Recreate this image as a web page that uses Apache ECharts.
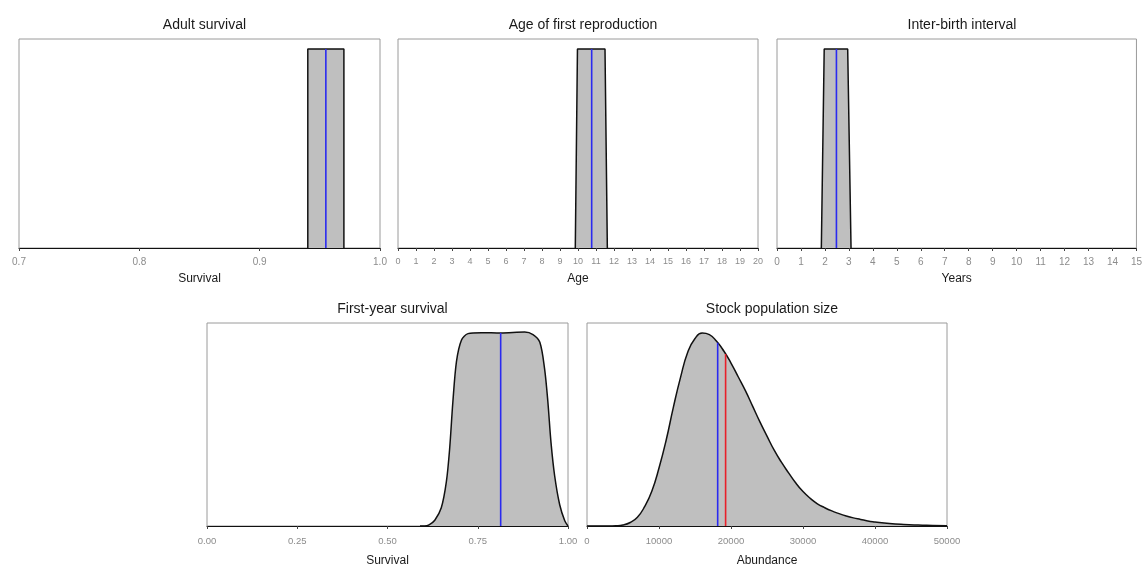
<!DOCTYPE html>
<html>
<head>
<meta charset="utf-8">
<script src="https://cdn.jsdelivr.net/npm/echarts@6/dist/echarts.min.js"></script>
<style>
html,body{margin:0;padding:0;background:#fff;}
#c{width:1145px;height:568px;}
</style>
</head>
<body>
<div id="c"></div>
<script>
// ---- Data ----
var titles = ["Adult survival", "Age of first reproduction", "Inter-birth interval", "First-year survival", "Stock population size"];
var axisNames = ["Survival", "Age", "Years", "Survival", "Abundance"];

// x ranges / tick steps
var xMins = [0.7, 0, 0, 0, 0];
var xMaxs = [1.0, 20, 15, 1, 50000];
var xSteps = [0.1, 1, 1, 0.25, 10000];
var labelDecimals = [1, 0, 0, 2, 0];

// Panel 1: adult survival (uniform)
var adultX = [0.94, 0.94, 0.97, 0.97];
var adultY = [0, 1, 1, 0];
var adultMean = 0.955;

// Panel 2: age of first reproduction
var ageX = [9.85, 9.97, 11.5, 11.63];
var ageY = [0, 1, 1, 0];
var ageMean = 10.76;

// Panel 3: inter-birth interval
var ibiX = [1.85, 1.97, 2.95, 3.09];
var ibiY = [0, 1, 1, 0];
var ibiMean = 2.48;

// Panel 4: first-year survival density (relative)
var fysX = [0.590, 0.603, 0.615, 0.631, 0.649, 0.663, 0.672, 0.681, 0.691, 0.705, 0.723, 0.760, 0.814, 0.880, 0.903, 0.922, 0.935, 0.944, 0.953, 0.963, 0.977, 0.991, 1.000];
var fysY = [0, 0, 0.006, 0.030, 0.094, 0.228, 0.396, 0.640, 0.850, 0.962, 0.995, 1.0, 0.998, 1.003, 0.990, 0.950, 0.815, 0.648, 0.430, 0.260, 0.110, 0.027, 0];
var fysMean = 0.8135;

// Panel 5: stock population size density (relative)
var popX = [0, 3000, 4000, 5000, 6000, 7000, 8000, 9000, 10000, 11000, 12000, 13000, 14000, 15000, 16000, 17000, 18000, 19000, 20000, 21000, 22000, 23000, 24000, 25000, 26000, 27000, 28000, 29000, 30000, 31000, 32000, 33000, 34000, 35000, 36000, 37000, 38000, 39000, 40000, 42000, 44000, 46000, 48000, 50000];
var popY = [0, 0, 0.001, 0.005, 0.018, 0.045, 0.100, 0.180, 0.300, 0.445, 0.615, 0.770, 0.900, 0.970, 0.998, 0.990, 0.955, 0.905, 0.843, 0.772, 0.700, 0.620, 0.540, 0.465, 0.392, 0.330, 0.275, 0.222, 0.178, 0.143, 0.115, 0.095, 0.078, 0.064, 0.052, 0.042, 0.034, 0.026, 0.021, 0.013, 0.008, 0.005, 0.003, 0.001];
var popMean = 18150;    // blue
var popMedian2 = 19250; // red

// ---- Layout ----
var grids = [
  {left: 19, top: 39, width: 361, height: 209},
  {left: 398, top: 39, width: 360, height: 209},
  {left: 777, top: 39, width: 360, height: 209},
  {left: 207, top: 323, width: 361, height: 209},
  {left: 587, top: 323, width: 360, height: 209}
];
var labelSizes = [10, 9, 10, 9.5, 9.5];
var labelMargins = [9, 9, 9, 10, 10];
var nameGaps = [25, 25, 25, 29, 29];

function pairs(xs, ys) { return xs.map(function (x, i) { return [x, ys[i]]; }); }
function interp(xs, ys, x) {
  for (var i = 1; i < xs.length; i++) {
    if (x <= xs[i]) {
      var t = (x - xs[i - 1]) / (xs[i] - xs[i - 1]);
      return ys[i - 1] + t * (ys[i] - ys[i - 1]);
    }
  }
  return ys[ys.length - 1];
}

var FILL = '#bfbfbf';
var BLUE = '#2a2af0';
var RED = '#e8202a';

var densSets = [
  {x: adultX, y: adultY, smooth: false, marks: [[adultMean, BLUE]]},
  {x: ageX, y: ageY, smooth: false, marks: [[ageMean, BLUE]]},
  {x: ibiX, y: ibiY, smooth: false, marks: [[ibiMean, BLUE]]},
  {x: fysX, y: fysY, smooth: 0.3, marks: [[fysMean, BLUE]]},
  {x: popX, y: popY, smooth: 0.5, marks: [[popMean, BLUE], [popMedian2, RED]]}
];

var option = {
  animation: false,
  backgroundColor: '#fff',
  title: [],
  grid: [],
  xAxis: [],
  yAxis: [],
  series: []
};

grids.forEach(function (g, i) {
  option.grid.push({left: g.left, top: g.top, width: g.width, height: g.height,
    show: true, borderColor: '#9a9a9a', borderWidth: 1, containLabel: false});
  option.title.push({
    text: titles[i],
    left: g.left + g.width / 2,
    top: g.top - 26,
    textAlign: 'center',
    textStyle: {fontFamily: 'Liberation Sans, Arial, sans-serif', fontSize: 14, fontWeight: 'normal', color: '#1a1a1a'}
  });
  var dec = labelDecimals[i];
  option.xAxis.push({
    type: 'value', gridIndex: i,
    min: xMins[i], max: xMaxs[i], interval: xSteps[i],
    name: axisNames[i], nameLocation: 'middle', nameGap: nameGaps[i],
    nameTextStyle: {fontFamily: 'Liberation Sans, Arial, sans-serif', fontSize: 12, color: '#1a1a1a'},
    axisLine: {show: true, onZero: false, lineStyle: {color: '#111', width: 1}},
    axisTick: {show: true, length: 3, lineStyle: {color: '#444'}},
    splitLine: {show: false},
    axisLabel: {
      fontFamily: 'Liberation Sans, Arial, sans-serif', fontSize: labelSizes[i], color: '#8c8c8c',
      margin: labelMargins[i], showMinLabel: true, showMaxLabel: true,
      formatter: function (v) { return Number(v).toFixed(dec); }
    }
  });
  option.yAxis.push({type: 'value', gridIndex: i, min: 0, max: 1.05, show: false});

  var d = densSets[i];
  option.series.push({
    type: 'line', xAxisIndex: i, yAxisIndex: i,
    data: pairs(d.x, d.y), smooth: d.smooth, symbol: 'none',
    lineStyle: {color: '#111', width: 1.5},
    areaStyle: {color: FILL, opacity: 1, origin: 'start'},
    z: 2
  });
  d.marks.forEach(function (m) {
    var h = interp(d.x, d.y, m[0]);
    option.series.push({
      type: 'line', xAxisIndex: i, yAxisIndex: i,
      data: [[m[0], 0], [m[0], h]], symbol: 'none',
      lineStyle: {color: m[1], width: 1.6},
      z: 3
    });
  });
});

var chart = echarts.init(document.getElementById('c'), null, {renderer: 'canvas'});
chart.setOption(option);
</script>
</body>
</html>
